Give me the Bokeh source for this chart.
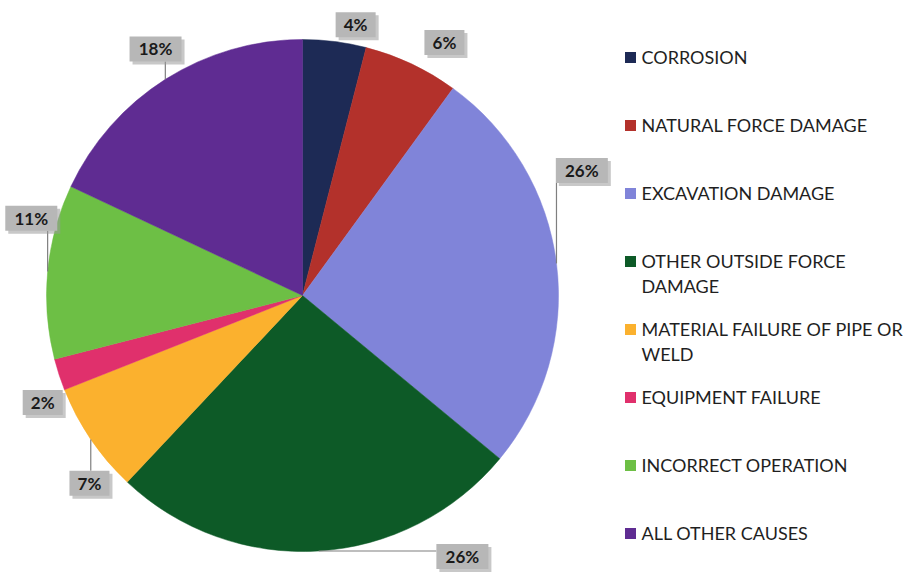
import math
from bokeh.plotting import figure
from bokeh.models import Range1d
from bokeh.core.properties import value
from bokeh.embed import file_html
from bokeh.resources import INLINE

# ---- data ----
causes = ["CORROSION", "NATURAL FORCE DAMAGE", "EXCAVATION DAMAGE",
          "OTHER OUTSIDE FORCE\nDAMAGE", "MATERIAL FAILURE OF PIPE OR\nWELD",
          "EQUIPMENT FAILURE", "INCORRECT OPERATION", "ALL OTHER CAUSES"]
percents = [4, 6, 26, 26, 7, 2, 11, 18]
colors = ["#1D2A55", "#B3312B", "#8084D9", "#0D5A27", "#FBB12E",
          "#E0306C", "#6DBF45", "#5F2C92"]

# ---- layout (screen px of the 912x575 page) ----
W, H = 912, 575
def Y(sy):
    return H - sy

CX, CY, R = 302, 295, 256
# label placement: (angle clockwise from 12 o'clock in degrees, distance from centre)
label_polar = [(11.1, 276), (29.3, 290), (65.9, 306), (148.5, 306),
               (228.6, 284), (247.6, 281), (285.9, 282), (329.2, 287)]
label_leader = [False, False, True, True, True, False, True, True]

p = figure(width=W, height=H, x_range=Range1d(0, W), y_range=Range1d(0, H),
           output_backend="svg", toolbar_location=None, min_border=0,
           background_fill_color="white", border_fill_color="white")
p.axis.visible = False
p.grid.visible = False
p.outline_line_color = None

total = float(sum(percents))
cum = 0.0
starts, ends, mids = [], [], []
for v in percents:
    a0 = cum / total
    cum += v
    a1 = cum / total
    starts.append(math.pi / 2 - 2 * math.pi * a0)
    ends.append(math.pi / 2 - 2 * math.pi * a1)
    mids.append(2 * math.pi * (a0 + a1) / 2)

p.wedge(x=[CX] * len(percents), y=[Y(CY)] * len(percents), radius=R,
        start_angle=starts, end_angle=ends, direction="clock",
        fill_color=colors, line_color=colors, line_width=0.5)

# ---- data labels ----
labels = [f"{v}%" for v in percents]
bx, by, bw, bh = [], [], [], []
for i, lab in enumerate(labels):
    ang, dist = label_polar[i]
    a = math.radians(ang)
    lx = CX + dist * math.sin(a)
    ly = CY - dist * math.cos(a)
    w = 16 + 12 * len(lab)
    h = 25
    bx.append(lx); by.append(ly); bw.append(w); bh.append(h)
    if label_leader[i]:
        ex = CX + R * math.sin(mids[i])
        ey = CY - R * math.cos(mids[i])
        tx = min(max(ex, lx - w / 2), lx + w / 2)
        ty = min(max(ey, ly - h / 2), ly + h / 2)
        p.line([ex, tx], [Y(ey), Y(ty)], line_color="#7F7F7F", line_width=1.2)

# shadow
p.rect(x=[x + 3 for x in bx], y=[Y(y) - 3 for y in by], width=bw, height=bh,
       fill_color="#9A9A9A", fill_alpha=0.55, line_color=None)
p.rect(x=bx, y=[Y(y) for y in by], width=bw, height=bh,
       fill_color="#B7B7B7", line_color=None)
p.text(x=bx, y=[Y(y) for y in by], text=labels, text_align="center",
       text_baseline="middle", text_font=value("Lato"), text_font_style="bold",
       text_font_size="17px", text_color="#1A1A1A")

# ---- legend ----
LX, LY0, LSTEP, LH = 630, 56, 68, 25.5
sq_x, sq_y, tx, ty, tt = [], [], [], [], []
for i, name in enumerate(causes):
    yc = LY0 + LSTEP * i
    sq_x.append(LX); sq_y.append(Y(yc + 1))
    for j, line in enumerate(name.split("\n")):
        tx.append(641); ty.append(Y(yc + j * LH)); tt.append(line)
p.rect(x=sq_x, y=sq_y, width=11, height=11, fill_color=colors, line_color=None)
p.text(x=tx, y=ty, text=tt, text_align="left", text_baseline="middle",
       text_font=value("Lato"), text_font_size="18px", text_color="#1F1F1F")

open("out.html", "w").write(file_html(p, INLINE))
